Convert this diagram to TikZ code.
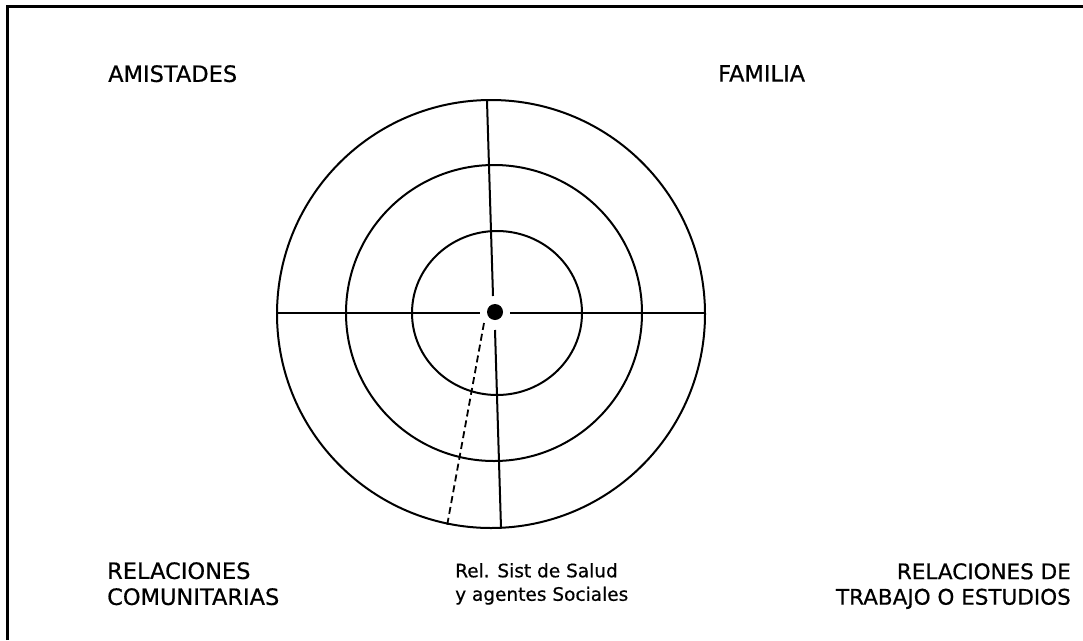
\documentclass[tikz,border=0pt]{standalone}
\usepackage{fontspec}
\setmainfont{DejaVu Sans}[UprightFeatures={FakeBold=0.6}]
\begin{document}
\begin{tikzpicture}[x=1pt,y=-1pt,
  ring/.style={line width=2pt},
  axis/.style={line width=2pt},
  frame/.style={line width=3pt},
  caps/.style={inner sep=0pt,font=\fontsize{22.5}{26}\selectfont},
  capsr/.style={inner sep=0pt,font=\fontsize{21.5}{25.5}\selectfont},
  small/.style={inner sep=0pt,font=\fontsize{18.5}{23.5}\selectfont}]
\useasboundingbox (0,0) rectangle (1083,640);
% frame (cropped at right and bottom)
\draw[frame] (7.5,640) -- (7.5,6) -- (1083,6);
% rings
\coordinate (oc) at (491,314);
\coordinate (mc) at (494,313);
\coordinate (ic) at (497,313);
\draw[ring] (oc) circle[radius=214];
\draw[ring] (mc) circle[radius=148];
\draw[ring] (ic) circle[x radius=85,y radius=82];
% centre dot
\node[circle,fill=black,minimum size=16pt,inner sep=0pt] (dot) at (495,312) {};
% axes
\coordinate (top) at (487,101);
\coordinate (topin) at (493,296);
\coordinate (bot) at (501,528);
\coordinate (botin) at (495,330);
\coordinate (left) at (277,313);
\coordinate (leftin) at (480,313);
\coordinate (right) at (705,313);
\coordinate (rightin) at (510,313);
\coordinate (dashin) at (484,323);
\coordinate (dashout) at (447,526);
\draw[axis] (top) -- (topin);
\draw[axis] (botin) -- (bot);
\draw[axis] (left) -- (leftin);
\draw[axis] (rightin) -- (right);
\draw[line width=1.8pt,dash pattern=on 7pt off 4pt] (dashin) -- (dashout);
% labels
\node[caps,anchor=north west] (amis) at (108,65) {AMISTADES};
\node[caps,anchor=north west] (fam) at (718,65) {FAMILIA};
\node[caps,anchor=north west,align=left] (com) at (107,562) {RELACIONES\\COMUNITARIAS};
\node[small,anchor=north west,align=left] (sal) at (455,563) {Rel. Sist de Salud\\y agentes Sociales};
\node[capsr,anchor=north east,align=right] (trab) at (1071,563) {RELACIONES DE\\TRABAJO O ESTUDIOS};
\end{tikzpicture}
\end{document}
